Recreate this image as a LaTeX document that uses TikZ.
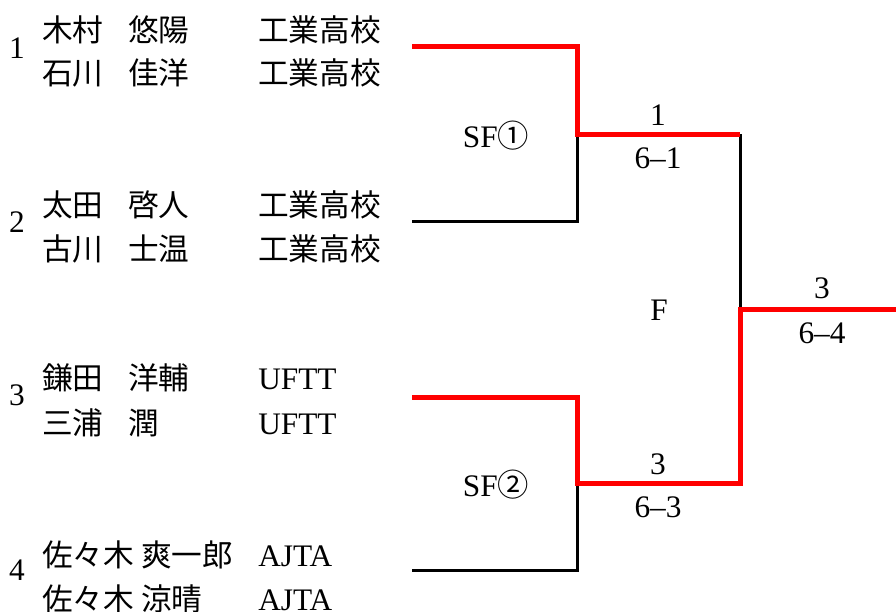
\documentclass[tikz,border=0pt]{standalone}
\usepackage{fontspec}
\setmainfont{Liberation Serif}
\newfontfamily\jpfont{Noto Sans CJK JP}
\usetikzlibrary{positioning}

\tikzset{
  player/.style={anchor=base west, inner sep=0pt, font=\fontsize{23}{28}\selectfont\jpfont},
  club/.style={anchor=base west, inner sep=0pt, font=\fontsize{23.5}{28}\selectfont},
  seed/.style={anchor=base, inner sep=0pt, font=\fontsize{23.5}{28}\selectfont},
  score/.style={anchor=base, inner sep=0pt, font=\fontsize{23.5}{28}\selectfont},
  loser/.style={draw=black, line width=2.25pt},
  winner/.style={draw=red, line width=3.75pt}
}

\begin{document}
\begin{tikzpicture}[x=0.75pt, y=-0.75pt]
    \useasboundingbox (0,0) rectangle (896,611);

    \node[seed] (seed1) at (17,58) {1};
    \node[seed] (seed2) at (17,232) {2};
    \node[seed] (seed3) at (17,405) {3};
    \node[seed] (seed4) at (17,580) {4};

    \node[player] (sur1) at (42,41) {木村};
    \node[player] (giv1) at (128,41) {悠陽};
    \node[player] (club1) at (258,41) {工業高校};
    \node[player] (sur2) at (42,84) {石川};
    \node[player] (giv2) at (128,84) {佳洋};
    \node[player] (club2) at (258,84) {工業高校};
    \node[player] (sur3) at (42,216) {太田};
    \node[player] (giv3) at (128,216) {啓人};
    \node[player] (club3) at (258,216) {工業高校};
    \node[player] (sur4) at (42,260) {古川};
    \node[player] (giv4) at (128,260) {士温};
    \node[player] (club4) at (258,260) {工業高校};
    \node[player] (sur5) at (42,389) {鎌田};
    \node[player] (giv5) at (128,389) {洋輔};
    \node[club] (club5) at (258,389) {UFTT};
    \node[player] (sur6) at (42,434) {三浦};
    \node[player] (giv6) at (128,434) {潤};
    \node[club] (club6) at (258,434) {UFTT};
    \node[player] (sur7) at (42,566) {佐々木};
    \node[player] (giv7) at (141,566) {爽一郎};
    \node[club] (club7) at (258,566) {AJTA};
    \node[player] (sur8) at (42,610) {佐々木};
    \node[player] (giv8) at (141,610) {涼晴};
    \node[club] (club8) at (258,610) {AJTA};

    \coordinate (e1) at (412,46);
    \coordinate (e2) at (412,221);
    \coordinate (e3) at (412,397);
    \coordinate (e4) at (412,570);
    \coordinate (s1) at (577,134);
    \coordinate (s2) at (577,483);
    \coordinate (f) at (740,309);
    \coordinate (w) at (896,309);

    \path[loser] (e2) -| (s1);
    \path[loser] (s1 -| f) -- (f);
    \path[loser] (e4) -| (s2);
    \path[winner] (e1) -| (s1) -- (s1 -| f);
    \path[winner] (e3) -| (s2) -| (f) -- (w);

    \node[score] (sf1) at (496,147) {SF{\jpfont ①}};
    \node[score] (sf2) at (496,496) {SF{\jpfont ②}};
    \node[score] (fin) at (659,320) {F};
    \node[score] (win1) at (658,125) {1};
    \node[score] (res1) at (658,168) {6–1};
    \node[score] (win2) at (658,474) {3};
    \node[score] (res2) at (658,517) {6–3};
    \node[score] (champ) at (822,298) {3};
    \node[score] (resf) at (822,343) {6–4};
\end{tikzpicture}
\end{document}
